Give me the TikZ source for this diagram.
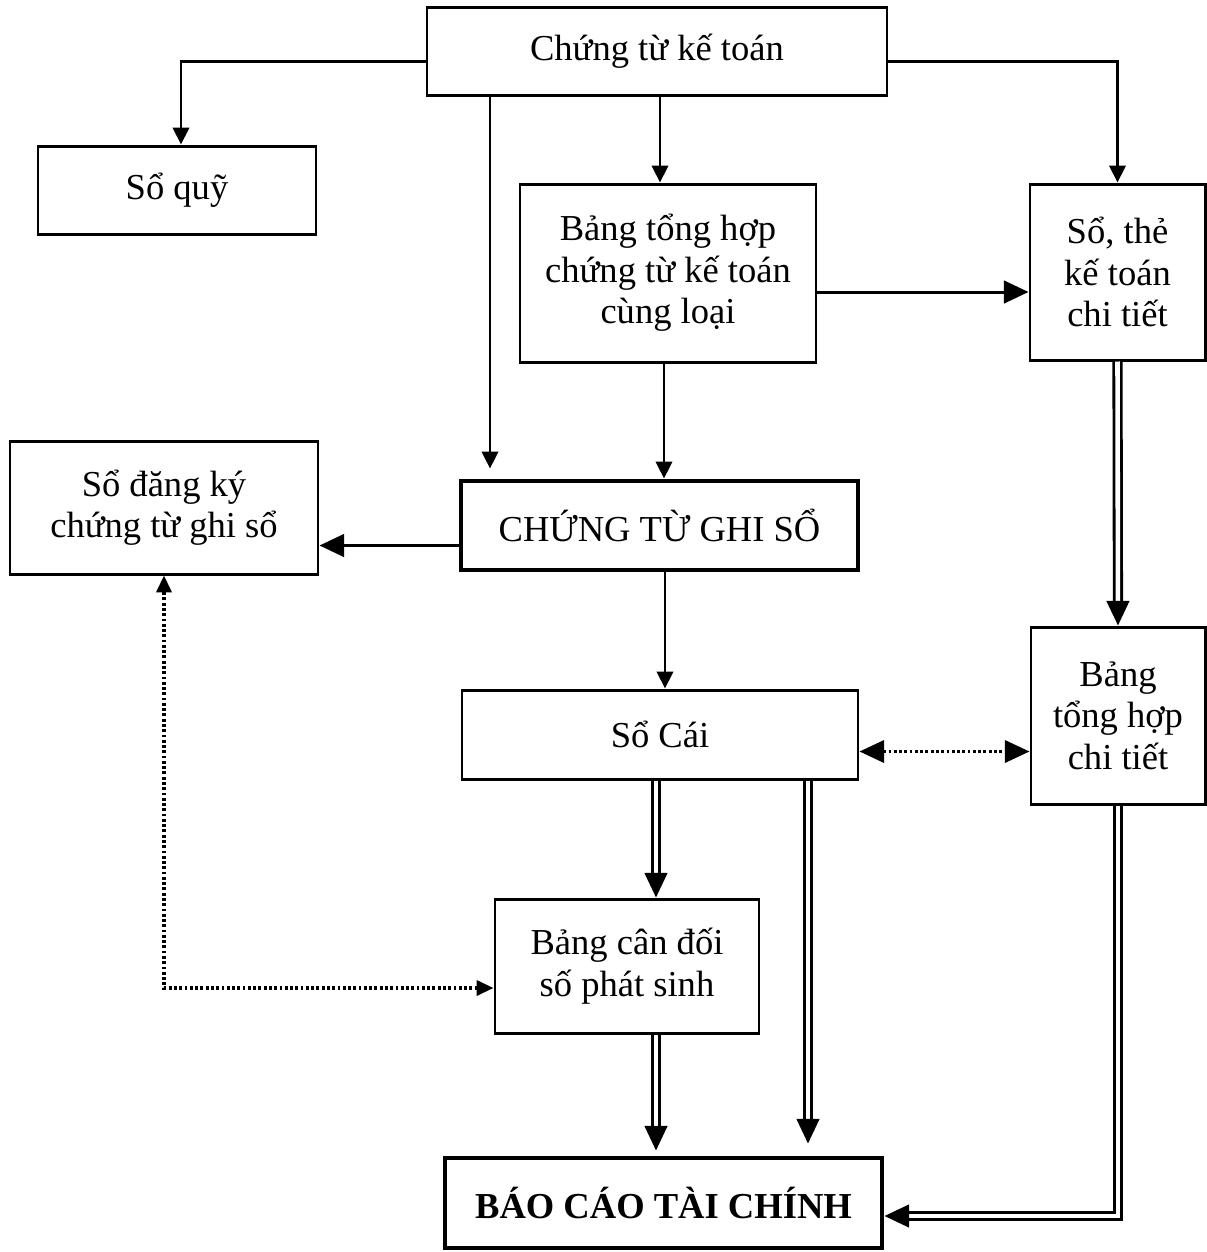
\documentclass[tikz,border=0pt]{standalone}
\usepackage{fontspec}
\setmainfont{Liberation Serif}
\usetikzlibrary{arrows.meta}

\begin{document}
\begin{tikzpicture}[
  box/.style={draw, rectangle, line width=0.85pt, align=center, inner sep=0pt, font=\fontsize{10.4pt}{11.8pt}\selectfont},
  bigbox/.style={box, line width=1.4pt},
  arr/.style={-{Triangle[length=4.8pt,width=4.6pt]}, line width=0.85pt},
  barr/.style={-{Triangle[length=7pt,width=6.4pt]}, line width=0.85pt},
  dbl/.style={barr, double, double distance=1.3pt, line width=0.8pt},
  dots/.style={line width=0.9pt, dash pattern=on 0.8pt off 0.7pt}
]
\useasboundingbox (0,0) rectangle (12.07,-12.52);

         \node[box, minimum width=4.60cm, minimum height=0.88cm](CT) at (6.57,-0.51) {Chứng từ kế toán};
         \node[box, minimum width=2.78cm, minimum height=0.88cm](SQ) at (1.77,-1.90) {Sổ quỹ};
         \node[box, minimum width=2.96cm, minimum height=1.78cm](BTH) at (6.68,-2.73) {Bảng tổng hợp\\chứng từ kế toán\\cùng loại};
         \node[box, minimum width=1.75cm, minimum height=1.76cm](ST) at (11.175,-2.72) {Sổ, thẻ\\kế toán\\chi tiết};
         \node[box, minimum width=3.08cm, minimum height=1.33cm](DK) at (1.64,-5.075) {Sổ đăng ký\\chứng từ ghi sổ};
         \node[bigbox, minimum width=3.97cm, minimum height=0.89cm](GS) at (6.595,-5.255) {CHỨNG TỪ GHI SỔ};
         \node[box, minimum width=3.96cm, minimum height=0.89cm](SC) at (6.60,-7.345) {Sổ Cái};
         \node[box, minimum width=1.74cm, minimum height=1.77cm](THCT) at (11.18,-7.155) {Bảng\\tổng hợp\\chi tiết};
         \node[box, minimum width=2.64cm, minimum height=1.34cm](CD) at (6.27,-9.66) {Bảng cân đối\\số phát sinh};
         \node[bigbox, minimum width=4.37cm, minimum height=0.90cm](BC) at (6.635,-12.03) {\bfseries BÁO CÁO TÀI CHÍNH};

         \draw[arr]([yshift=-0.1cm]CT.west) -| ([xshift=0.04cm]SQ.north);
         \draw[arr, shorten >=0.1cm](CT.south -| 4.90,0) -- (GS.north -| 4.90,0);
         \draw[arr](CT.south -| 6.60,0) -- (BTH.north -| 6.60,0);
         \draw[arr]([yshift=-0.1cm]CT.east) -| (ST.north);
         \draw[barr]([yshift=-0.19cm]BTH.east) -- ([yshift=-0.19cm]BTH.east -| ST.west);
         \draw[arr](BTH.south -| 6.64,0) -- (GS.north -| 6.64,0);
         \draw[barr]([yshift=-0.2cm]GS.west) -- ([yshift=-0.2cm]GS.west -| DK.east);
         \draw[arr](GS.south -| 6.65,0) -- (SC.north -| 6.65,0);
         \draw[dbl](ST.south) -- (THCT.north);
         \draw[dots, {Triangle[length=7pt,width=6.3pt]}-{Triangle[length=7pt,width=6.3pt]}]([yshift=-0.17cm]SC.east) -- ([yshift=-0.17cm]SC.east -| THCT.west);
         \draw[dbl](SC.south -| 6.56,0) -- (CD.north -| 6.56,0);
         \draw[dbl, shorten >=0.12cm](SC.south -| 8.08,0) -- (BC.north -| 8.08,0);
         \draw[dbl, shorten >=0.05cm](CD.south -| 6.56,0) -- (BC.north -| 6.56,0);
         \draw[dbl](THCT.south) |- ([yshift=-0.13cm]BC.east);
         \draw[dots, {Triangle[length=4.8pt,width=4.3pt]}-{Triangle[length=4.8pt,width=4.3pt]}]([yshift=-0.22cm]CD.west) -| (DK.south);
\end{tikzpicture}
\end{document}
